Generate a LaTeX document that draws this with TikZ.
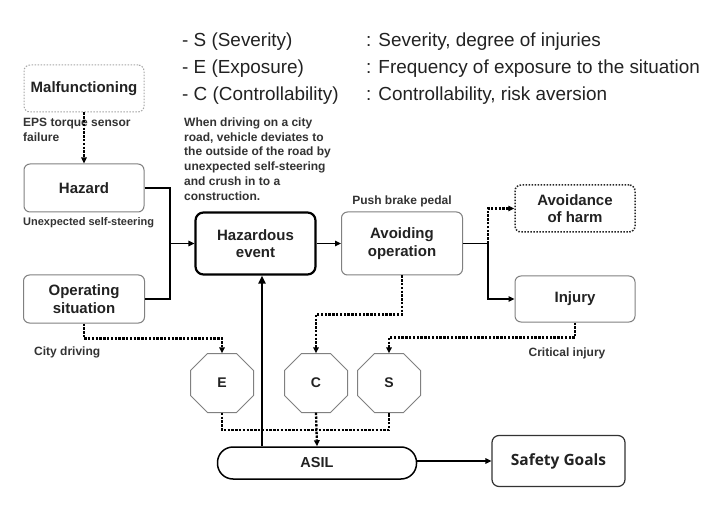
\documentclass[tikz,border=0pt]{standalone}
\usepackage{fontspec}
\setmainfont{Liberation Sans}
\newfontfamily\sgfont{Open Sans}
\usetikzlibrary{arrows.meta}
\definecolor{boxgray}{HTML}{808080}
\definecolor{txt}{HTML}{222222}
\definecolor{lbl}{HTML}{333333}
\begin{document}
\begin{tikzpicture}[x=1pt,y=-1pt,
  box/.style={draw=boxgray, line width=1pt, rounded corners=6pt, fill=white, align=center,
    text=txt, font=\bfseries\fontsize{15}{17.5}\selectfont, inner sep=0pt},
  dotbox/.style={box, dash pattern=on 1.5pt off 1.5pt},
  octo/.style={rectangle, draw=none, text=txt, font=\bfseries\fontsize{14}{16}\selectfont,
    minimum width=63pt, minimum height=59pt, inner sep=0pt},
  octoline/.style={draw=boxgray, line width=1pt, fill=white},
  lab/.style={text=lbl, font=\bfseries\fontsize{12}{14.8}\selectfont, inner sep=0pt, align=left},
  legend/.style={text=txt, font=\fontsize{18.9}{21}\selectfont, inner sep=0pt, anchor=west},
  tip/.style={-{Triangle[length=6pt,width=5.5pt]}},
  conn/.style={black, line width=1.4pt},
  dots/.style={black, line width=2.3pt, dash pattern=on 2.4pt off 1.4pt},
]
\useasboundingbox[fill=white] (0,0) rectangle (714,510);

% legend
\node[legend] (l1) at (182,42) {- S (Severity)};
\node[legend] (l2) at (182,69) {- E (Exposure)};
\node[legend] (l3) at (182,96) {- C (Controllability)};
\node[legend] (r1) at (366,42) {: Severity, degree of injuries};
\node[legend] (r2) at (366,69) {: Frequency of exposure to the situation};
\node[legend] (r3) at (366,96) {: Controllability, risk aversion};

% boxes
\node[dotbox, draw=gray!70, minimum width=120pt, minimum height=47pt] (mal) at (84,88.5) {Malfunctioning};
\node[box, minimum width=120pt, minimum height=48pt] (haz) at (84,188) {Hazard};
\node[box, minimum width=121pt, minimum height=48pt] (ops) at (84,299) {Operating\\situation};
\node[box, draw=black, line width=2.2pt, rounded corners=8pt, minimum width=120pt, minimum height=62pt] (hev) at (255.5,243.5) {Hazardous\\event};
\node[box, minimum width=121pt, minimum height=63pt] (avo) at (402,243.5) {Avoiding\\operation};
\node[dotbox, draw=black!85, line width=1.5pt, minimum width=120pt, minimum height=47pt] (aoh) at (575,208.5) {Avoidance\\of harm};
\node[box, minimum width=120pt, minimum height=46pt] (inj) at (575,299) {Injury};

\foreach \n/\x in {E/222,C/316,S/389}{
  \path[octoline] (\x-14.5,353.5) -- (\x+14.5,353.5) -- (\x+31.5,370.5) -- (\x+31.5,395.5)
    -- (\x+14.5,412.5) -- (\x-14.5,412.5) -- (\x-31.5,395.5) -- (\x-31.5,370.5) -- cycle;
}
\node[octo] (E) at (222,383) {E};
\node[octo] (C) at (316,383) {C};
\node[octo] (S) at (389,383) {S};

\node[box, draw=black, line width=1.5pt, rounded corners=15.5pt, minimum width=199pt, minimum height=32pt,
  font=\bfseries\fontsize{14.5}{16}\selectfont] (asil) at (317,463) {ASIL};
\node[box, draw=black!80, line width=1.2pt, rounded corners=7pt, minimum width=133pt, minimum height=51pt,
  font=\sgfont\bfseries\fontsize{15.5}{18}\selectfont] (sg) at (558.5,461) {Safety Goals};

% labels
\node[lab, anchor=north west] (eps) at (23,118) {EPS torque sensor\\failure};
\node[lab, anchor=west, font=\bfseries\fontsize{11}{13}\selectfont] (use) at (23,223) {Unexpected self-steering};
\node[lab, anchor=west] (city) at (34,352) {City driving};
\node[lab] (push) at (402,201) {Push brake pedal};
\node[lab] (crit) at (567,353) {Critical injury};
\node[lab, anchor=north west] (desc) at (184,117.5) {When driving on a city\\road, vehicle deviates to\\the outside of the road by\\unexpected self-steering\\and crush in to a\\construction.};

% coordinates
\coordinate (jl) at (170,243.5);
\coordinate (jr) at (488,243.5);
\coordinate (ha) at ([xshift=6.5pt]hev.south);

% solid connectors
\draw[conn, tip] (haz.east) -| (jl) -- (hev.west);
\draw[conn] (ops.east) -| (jl);
\draw[conn, tip] (hev.east) -- (avo.west);
\draw[conn] (avo.east) -- (jr);
\draw[conn, tip] (jr) |- (inj.west);
\draw[black, line width=2.6pt, -{Triangle[length=8pt,width=7pt]}] (asil.north -| ha) -- (ha);
\draw[conn, line width=1.2pt, tip] (asil.east |- sg.west) -- (sg.west);

% dotted connectors
\draw[dots, tip] (mal.south) -- (haz.north);
\draw[dots, tip] (jr) |- (aoh.west);
\draw[dots, tip] (inj.south) -- ++(0,15) -| (S.north);
\draw[dots, tip] (avo.south) -- ++(0,39) -| (C.north);
\draw[dots, tip] (ops.south) -- ++(0,15) -| (E.north);
\draw[dots] (E.south) -- (E.south |- 0,430) -- (S.south |- 0,430) -- (S.south);
\draw[dots, tip] (C.south) -- (asil.north);
\end{tikzpicture}
\end{document}
